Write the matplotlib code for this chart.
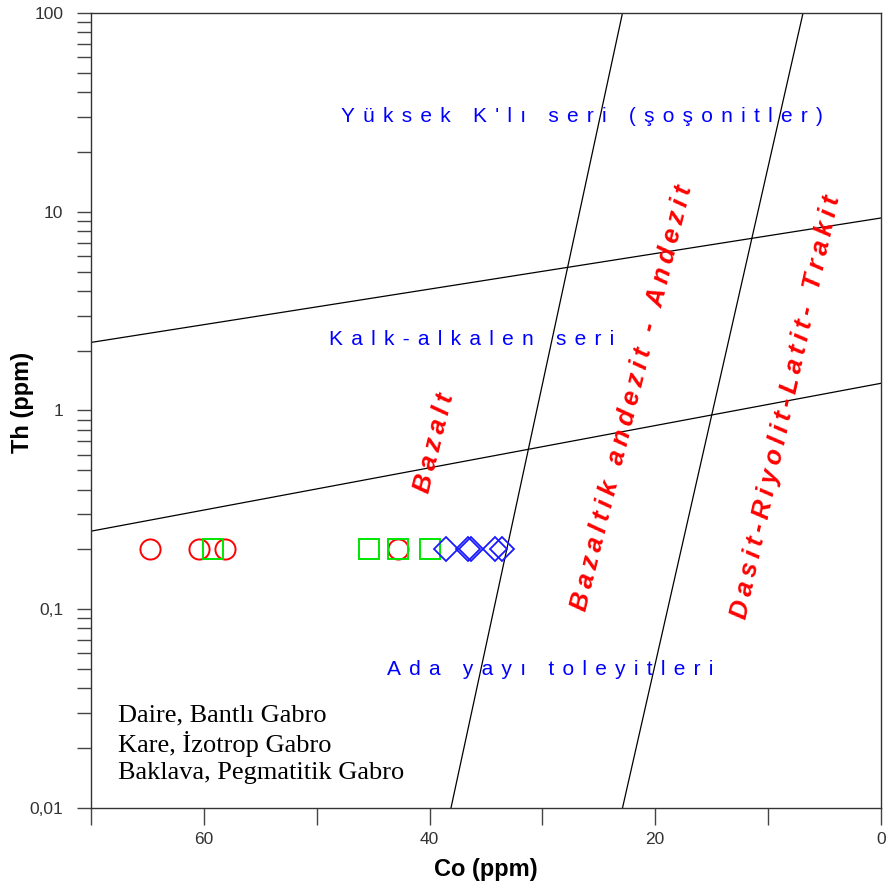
import matplotlib
matplotlib.use("Agg")
import matplotlib.pyplot as plt
import numpy as np
from matplotlib.ticker import LogLocator, FixedLocator, NullFormatter

## Data

# Th = 0.2 ppm for every sample
daire_co = [64.8, 60.4, 58.1, 42.8]          # Bantlı Gabro (circles)
daire_th = [0.2, 0.2, 0.2, 0.2]
kare_co = [59.2, 45.4, 42.8, 40.0]           # İzotrop Gabro (squares)
kare_th = [0.2, 0.2, 0.2, 0.2]
baklava_co = [38.5, 36.6, 36.3, 34.2, 33.6]  # Pegmatitik Gabro (diamonds)
baklava_th = [0.2, 0.2, 0.2, 0.2, 0.2]

# field boundaries (Co, Th) end points
upper_co, upper_th = [70, 0], [2.2, 9.3]
lower_co, lower_th = [70, 0], [0.247, 1.37]
steep1_co, steep1_th = [38.1, 22.9], [0.01, 100]
steep2_co, steep2_th = [22.9, 6.9], [0.01, 100]

y_ticks = [0.01, 0.1, 1, 10, 100]
y_labels = ["0,01", "0,1", "1", "10", "100"]
x_ticks = [60, 40, 20, 0]


def spaced(s, gap="\u2009"):
    """Spread letters like the original letter-spaced labels."""
    return gap.join(s)


plt.rcParams['font.family'] = ['Liberation Sans', 'DejaVu Sans']

fig = plt.figure(figsize=(8.88, 8.91), dpi=100)
ax = fig.add_axes([0.1025, 0.0932, 0.8895, 0.8922])

ax.plot(upper_co, upper_th, color='black', lw=0.9)
ax.plot(lower_co, lower_th, color='black', lw=0.9)
ax.plot(steep1_co, steep1_th, color='black', lw=0.9)
ax.plot(steep2_co, steep2_th, color='black', lw=0.9)

ax.plot(daire_co, daire_th, 'o', ms=14.5, mfc='none', mec='#ff0000', mew=1.4, ls='none')
ax.plot(kare_co, kare_th, 's', ms=14, mfc='none', mec='#00e600', mew=1.4, ls='none')
ax.plot(baklava_co, baklava_th, 'D', ms=12.5, mfc='none', mec='#1a1aff', mew=1.3, ls='none')

ax.set_yscale('log')
ax.set_xlim(70, 0)
ax.set_ylim(0.01, 100)

ax.yaxis.set_major_locator(FixedLocator(y_ticks))
ax.set_yticklabels(y_labels)
ax.yaxis.set_minor_locator(LogLocator(base=10, subs=np.arange(2, 10)))
ax.yaxis.set_minor_formatter(NullFormatter())
ax.xaxis.set_major_locator(FixedLocator(x_ticks))
ax.xaxis.set_minor_locator(FixedLocator([70, 50, 30, 10]))

ax.tick_params(axis='y', which='both', direction='out', length=10, width=1,
               color='#444444', labelsize=12.5, labelcolor='#333333', pad=10)
ax.tick_params(axis='x', which='both', direction='out', length=12.5, width=1,
               color='#444444', labelsize=12.5, labelcolor='#333333', pad=5)
for sp in ax.spines.values():
    sp.set_color('#333333')
    sp.set_linewidth(1)

ax.set_xlabel("Co (ppm)", fontsize=17, fontweight='bold', labelpad=8)
fig.text(0.025, 0.548, "Th (ppm)", fontsize=17, fontweight='bold', rotation=90,
         ha='center', va='center')

# series names (blue) and rock names (red)
blue = '#0000ff'
gap2 = "\u2009\u2009"
ax.text(0.622, 0.870, spaced("Yüksek K'lı seri (şoşonitler)", gap2), transform=ax.transAxes,
        color=blue, fontsize=15, ha='center', va='center')
ax.text(0.482, 0.589, spaced("Kalk-alkalen seri", gap2), transform=ax.transAxes,
        color=blue, fontsize=15, ha='center', va='center')
ax.text(0.581, 0.174, spaced("Ada yayı toleyitleri", gap2), transform=ax.transAxes,
        color=blue, fontsize=15, ha='center', va='center')

red = '#ff0000'
ax.text(0.435, 0.459, spaced("Bazalt"), transform=ax.transAxes, color=red,
        fontsize=18.5, fontweight='bold', style='italic', rotation=76,
        ha='center', va='center', rotation_mode='anchor')
ax.text(0.685, 0.516, spaced("Bazaltik andezit - Andezit"), transform=ax.transAxes,
        color=red, fontsize=18.5, fontweight='bold', style='italic', rotation=76,
        ha='center', va='center', rotation_mode='anchor')
ax.text(0.880, 0.504, spaced("Dasit-Riyolit-Latit- Trakit"), transform=ax.transAxes,
        color=red, fontsize=18.5, fontweight='bold', style='italic', rotation=77.5,
        ha='center', va='center', rotation_mode='anchor')

# symbol key
serif = ['Liberation Serif', 'DejaVu Serif']
ax.text(0.034, 0.116, "Daire, Bantlı Gabro", transform=ax.transAxes, fontsize=19,
        family=serif, va='center')
ax.text(0.034, 0.080, "Kare, İzotrop Gabro", transform=ax.transAxes, fontsize=19,
        family=serif, va='center')
ax.text(0.034, 0.044, "Baklava, Pegmatitik Gabro", transform=ax.transAxes, fontsize=19,
        family=serif, va='center')

fig.savefig("out.png", dpi=100)
